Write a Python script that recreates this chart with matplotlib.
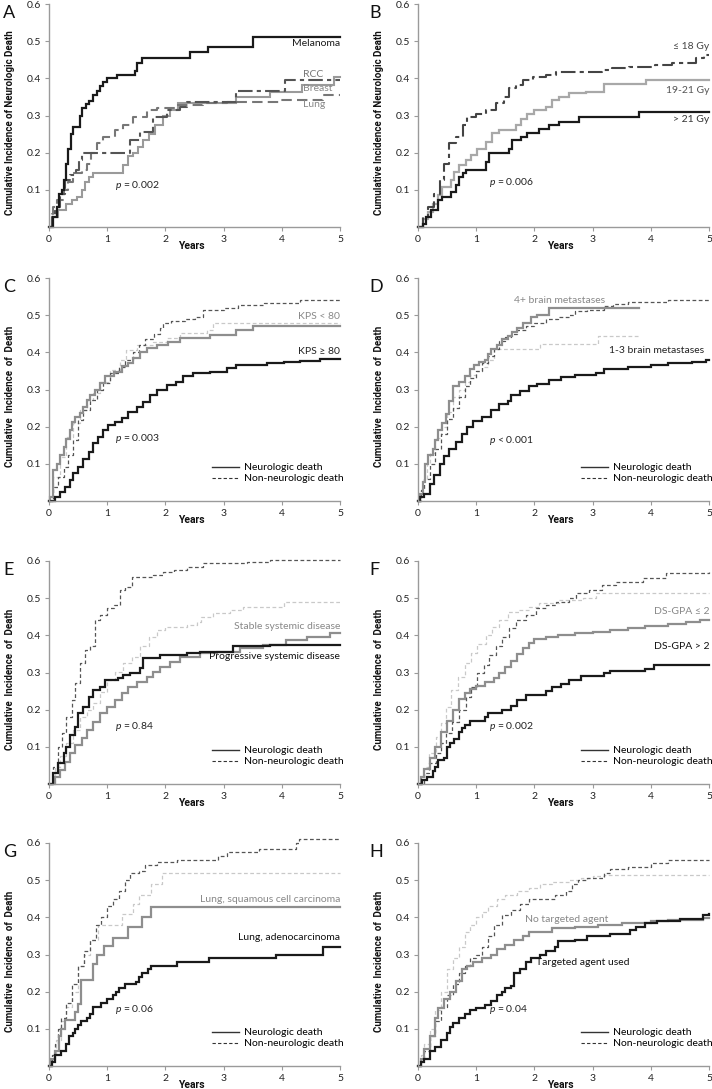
import matplotlib
matplotlib.use('Agg')
import matplotlib.pyplot as plt
from matplotlib.lines import Line2D

plt.rcParams['font.family'] = ['Lato', 'DejaVu Sans']
plt.rcParams['mathtext.fontset'] = 'custom'
plt.rcParams['mathtext.it'] = 'Lato:italic'
plt.rcParams['mathtext.rm'] = 'Lato'

# ---------------- data: (years, cumulative incidence)
# A: primary histology
a_melanoma = [(0,0),(0.07,0.027),(0.13,0.054),(0.18,0.09),(0.22,0.10),(0.26,0.126),(0.29,0.17),(0.33,0.21),
              (0.37,0.25),(0.42,0.27),(0.53,0.30),(0.56,0.32),(0.64,0.33),(0.69,0.34),(0.75,0.355),(0.82,0.367),
              (0.88,0.38),(0.93,0.39),(0.99,0.40),(1.16,0.41),(1.48,0.42),(1.52,0.44),(1.59,0.455),(2.42,0.47),
              (2.74,0.485),(3.50,0.51),(5.0,0.51)]
a_rcc = [(0,0),(0.05,0.027),(0.10,0.054),(0.19,0.09),(0.27,0.126),(0.36,0.14),(0.46,0.153),(0.52,0.18),(0.56,0.20),
         (1.39,0.234),(1.56,0.256),(1.79,0.296),(2.02,0.315),(2.25,0.323),(2.37,0.335),(3.22,0.367),(4.05,0.395),(5.0,0.395)]
a_breast = [(0,0),(0.07,0.027),(0.16,0.045),(0.30,0.063),(0.39,0.072),(0.48,0.08),(0.56,0.10),(0.62,0.12),(0.68,0.135),
            (0.76,0.144),(1.27,0.166),(1.36,0.19),(1.45,0.198),(1.53,0.216),(1.62,0.234),(1.71,0.25),(1.82,0.274),
            (1.96,0.30),(2.08,0.315),(2.22,0.333),(3.22,0.35),(3.79,0.364),(4.34,0.382),(4.89,0.404),(5.0,0.404)]
a_lung = [(0,0),(0.05,0.036),(0.07,0.054),(0.14,0.072),(0.25,0.10),(0.33,0.12),(0.42,0.144),(0.56,0.153),(0.65,0.17),
          (0.73,0.198),(0.82,0.225),(0.93,0.243),(1.13,0.26),(1.28,0.274),(1.45,0.296),(1.68,0.315),(1.85,0.32),
          (2.19,0.328),(2.65,0.333),(3.05,0.337),(3.97,0.343),(4.71,0.355),(5.0,0.355)]

# B: SRS dose
b_le18 = [(0,0),(0.08,0.027),(0.17,0.054),(0.28,0.09),(0.37,0.126),(0.45,0.17),(0.54,0.225),(0.65,0.243),(0.77,0.274),
          (0.85,0.296),(1.0,0.305),(1.17,0.315),(1.34,0.333),(1.48,0.35),(1.57,0.373),(1.68,0.382),(1.80,0.395),
          (1.97,0.404),(2.2,0.409),(2.37,0.418),(3.17,0.422),(3.34,0.427),(3.63,0.431),(4.08,0.436),(4.37,0.44),
          (4.77,0.454),(4.91,0.463),(5.0,0.463)]
b_19_21 = [(0,0),(0.08,0.022),(0.17,0.04),(0.25,0.063),(0.34,0.085),(0.42,0.108),(0.57,0.126),(0.62,0.148),(0.71,0.166),
           (0.82,0.18),(0.91,0.193),(1.02,0.211),(1.17,0.229),(1.28,0.252),(1.40,0.26),(1.68,0.274),(1.77,0.29),
           (1.88,0.305),(2.0,0.315),(2.2,0.323),(2.31,0.341),(2.43,0.35),(2.6,0.36),(2.88,0.364),(3.2,0.386),
           (3.91,0.395),(5.0,0.395)]
b_gt21 = [(0,0),(0.08,0.009),(0.14,0.027),(0.22,0.045),(0.34,0.072),(0.42,0.08),(0.57,0.094),(0.65,0.112),(0.71,0.135),
          (0.77,0.144),(0.82,0.153),(1.17,0.175),(1.22,0.198),(1.57,0.211),(1.62,0.234),(1.77,0.243),(1.88,0.252),
          (2.08,0.265),(2.25,0.274),(2.43,0.283),(2.77,0.297),(3.8,0.31),(5.0,0.31)]

# C: KPS
c_low_neuro = [(0,0),(0.02,0.011),(0.07,0.083),(0.13,0.10),(0.19,0.123),(0.25,0.146),(0.30,0.168),(0.36,0.19),
               (0.39,0.213),(0.45,0.227),(0.53,0.236),(0.59,0.254),(0.65,0.272),(0.70,0.285),(0.79,0.298),
               (0.88,0.317),(0.96,0.335),(1.11,0.348),(1.25,0.362),(1.36,0.37),(1.45,0.384),(1.56,0.402),
               (1.68,0.411),(1.85,0.42),(2.05,0.429),(2.25,0.438),(2.77,0.447),(3.22,0.46),(3.50,0.472),(5.0,0.472)]
c_low_other = [(0,0),(0.07,0.065),(0.19,0.119),(0.30,0.173),(0.42,0.209),(0.53,0.245),(0.65,0.272),(0.76,0.29),
               (0.88,0.321),(1.05,0.353),(1.22,0.38),(1.33,0.406),(1.51,0.42),(1.79,0.429),(2.02,0.438),
               (2.25,0.451),(2.71,0.46),(2.82,0.478),(5.0,0.478)]
c_high_neuro = [(0,0),(0.10,0.011),(0.19,0.024),(0.27,0.038),(0.36,0.056),(0.42,0.074),(0.50,0.092),(0.59,0.114),
                (0.68,0.132),(0.76,0.155),(0.85,0.173),(0.93,0.19),(1.02,0.204),(1.13,0.213),(1.25,0.222),
                (1.36,0.24),(1.51,0.254),(1.62,0.267),(1.74,0.285),(1.85,0.298),(2.02,0.312),(2.19,0.321),
                (2.31,0.335),(2.48,0.344),(2.77,0.348),(3.05,0.357),(3.22,0.366),(3.74,0.37),(4.03,0.375),
                (4.31,0.378),(4.66,0.381),(5.0,0.381)]
c_high_other = [(0,0),(0.07,0.038),(0.16,0.065),(0.25,0.092),(0.33,0.123),(0.42,0.164),(0.5,0.218),(0.59,0.245),
                (0.70,0.272),(0.82,0.298),(0.93,0.317),(1.05,0.345),(1.2,0.36),(1.3,0.38),(1.45,0.40),(1.55,0.42),
                (1.65,0.435),(1.8,0.45),(1.9,0.465),(1.96,0.478),(2.1,0.483),(2.34,0.49),(2.5,0.495),(2.65,0.514),
                (3.0,0.518),(3.25,0.528),(3.7,0.533),(4.31,0.541),(5.0,0.541)]

# D: number of brain metastases
d_many_neuro = [(0,0),(0.03,0.02),(0.08,0.05),(0.12,0.1),(0.17,0.125),(0.25,0.14),(0.3,0.165),(0.35,0.19),(0.42,0.21),
                (0.48,0.235),(0.53,0.27),(0.6,0.31),(0.7,0.32),(0.8,0.335),(0.9,0.355),(0.97,0.365),(1.05,0.375),
                (1.15,0.38),(1.2,0.395),(1.25,0.41),(1.35,0.42),(1.45,0.435),(1.55,0.445),(1.62,0.455),(1.7,0.465),
                (1.8,0.48),(1.95,0.495),(2.05,0.5),(2.25,0.518),(3.8,0.518)]
d_many_other = [(0,0),(0.05,0.03),(0.1,0.06),(0.15,0.1),(0.2,0.13),(0.3,0.17),(0.4,0.2),(0.5,0.24),(0.6,0.28),
                (0.7,0.3),(0.8,0.32),(0.9,0.34),(1.0,0.35),(1.1,0.36),(1.2,0.38),(1.3,0.41),(2.1,0.422),
                (3.1,0.445),(3.8,0.445)]
d_few_neuro = [(0,0),(0.03,0.01),(0.1,0.02),(0.2,0.045),(0.28,0.07),(0.37,0.1),(0.45,0.12),(0.53,0.14),(0.65,0.16),
               (0.75,0.18),(0.85,0.2),(0.95,0.215),(1.1,0.225),(1.25,0.245),(1.4,0.26),(1.55,0.27),(1.6,0.285),
               (1.75,0.295),(1.9,0.31),(2.05,0.315),(2.25,0.325),(2.45,0.333),(2.7,0.34),(3.05,0.345),(3.2,0.355),
               (3.6,0.36),(4.0,0.365),(4.3,0.37),(4.7,0.375),(4.95,0.38),(5.0,0.38)]
d_few_other = [(0,0),(0.05,0.03),(0.1,0.06),(0.2,0.1),(0.3,0.14),(0.4,0.18),(0.5,0.22),(0.6,0.25),(0.7,0.28),
               (0.8,0.31),(0.9,0.33),(1.0,0.35),(1.1,0.37),(1.2,0.39),(1.3,0.41),(1.4,0.43),(1.5,0.44),(1.6,0.45),
               (1.7,0.46),(1.85,0.47),(2.0,0.48),(2.2,0.49),(2.4,0.495),(2.6,0.5),(2.7,0.51),(2.9,0.515),
               (3.2,0.525),(3.35,0.53),(3.6,0.535),(4.3,0.54),(5.0,0.54)]

# E: extracranial disease status
e_stable_neuro = [(0,0),(0.10,0.02),(0.19,0.038),(0.27,0.06),(0.36,0.083),(0.45,0.105),(0.56,0.123),(0.65,0.145),
                  (0.76,0.168),(0.88,0.19),(0.99,0.208),(1.13,0.226),(1.25,0.244),(1.36,0.262),(1.51,0.275),
                  (1.68,0.289),(1.79,0.302),(1.91,0.316),(2.08,0.329),(2.25,0.343),(2.59,0.352),(2.88,0.356),
                  (3.28,0.365),(3.68,0.374),(4.08,0.387),(4.43,0.396),(4.83,0.405),(5.0,0.405)]
e_stable_other = [(0,0),(0.10,0.047),(0.19,0.074),(0.30,0.109),(0.42,0.145),(0.53,0.181),(0.65,0.199),(0.76,0.217),
                  (0.88,0.248),(0.99,0.28),(1.13,0.302),(1.28,0.325),(1.42,0.343),(1.56,0.37),(1.71,0.396),
                  (1.85,0.414),(1.99,0.423),(2.37,0.428),(2.54,0.437),(2.62,0.45),(2.82,0.459),(3.11,0.468),
                  (3.34,0.477),(4.03,0.491),(5.0,0.491)]
e_prog_neuro = [(0,0),(0.07,0.029),(0.16,0.056),(0.25,0.083),(0.30,0.10),(0.36,0.132),(0.45,0.154),(0.50,0.19),
                (0.59,0.208),(0.68,0.235),(0.76,0.253),(0.88,0.262),(0.96,0.28),(1.19,0.284),(1.28,0.293),
                (1.39,0.298),(1.56,0.311),(1.62,0.338),(1.91,0.347),(2.37,0.352),(2.59,0.356),(3.17,0.37),
                (3.80,0.374),(5.0,0.374)]
e_prog_other = [(0,0),(0.07,0.047),(0.16,0.10),(0.22,0.136),(0.30,0.181),(0.39,0.226),(0.45,0.271),(0.53,0.325),
                (0.62,0.36),(0.70,0.37),(0.79,0.441),(0.88,0.455),(0.99,0.473),(1.11,0.482),(1.22,0.522),
                (1.31,0.531),(1.42,0.558),(1.79,0.562),(1.96,0.571),(2.14,0.576),(2.37,0.585),(2.65,0.594),
                (3.40,0.598),(3.80,0.603),(5.0,0.603)]

# F: DS-GPA
f_low_neuro = [(0,0),(0.05,0.02),(0.1,0.04),(0.2,0.07),(0.3,0.1),(0.4,0.14),(0.5,0.17),(0.6,0.2),(0.7,0.23),(0.8,0.245),
               (0.9,0.255),(1.0,0.265),(1.15,0.275),(1.3,0.285),(1.4,0.3),(1.5,0.315),(1.6,0.33),(1.7,0.35),
               (1.8,0.365),(1.9,0.38),(2.0,0.39),(2.2,0.395),(2.4,0.402),(2.7,0.407),(3.0,0.41),(3.3,0.415),
               (3.6,0.42),(3.9,0.425),(4.3,0.43),(4.6,0.435),(4.85,0.44),(5.0,0.44)]
f_low_other = [(0,0),(0.11,0.047),(0.19,0.083),(0.31,0.127),(0.39,0.163),(0.48,0.208),(0.57,0.253),(0.68,0.289),
               (0.80,0.325),(0.91,0.352),(1.02,0.378),(1.17,0.40),(1.28,0.423),(1.40,0.441),(1.54,0.464),
               (1.74,0.468),(1.91,0.477),(2.08,0.486),(2.43,0.495),(2.83,0.50),(3.05,0.515),(5.0,0.515)]
f_high_neuro = [(0,0),(0.07,0.01),(0.15,0.02),(0.25,0.035),(0.3,0.045),(0.35,0.065),(0.45,0.07),(0.5,0.1),(0.55,0.11),
                (0.62,0.12),(0.7,0.14),(0.75,0.15),(0.8,0.16),(0.9,0.17),(1.15,0.18),(1.2,0.19),(1.45,0.2),
                (1.6,0.21),(1.7,0.225),(1.85,0.24),(2.2,0.25),(2.3,0.26),(2.45,0.27),(2.6,0.28),(2.8,0.29),
                (3.2,0.30),(3.3,0.305),(3.9,0.31),(4.05,0.32),(5.0,0.32)]
f_high_other = [(0,0),(0.11,0.029),(0.19,0.056),(0.31,0.083),(0.39,0.109),(0.48,0.136),(0.59,0.168),(0.71,0.199),
                (0.82,0.235),(0.91,0.262),(1.02,0.298),(1.14,0.32),(1.22,0.347),(1.34,0.37),(1.45,0.396),
                (1.57,0.419),(1.68,0.441),(1.85,0.455),(2.03,0.473),(2.20,0.482),(2.37,0.491),(2.60,0.50),
                (2.71,0.513),(2.94,0.522),(3.17,0.535),(3.40,0.544),(3.86,0.553),(4.26,0.567),(5.0,0.57)]

# G: lung histology
g_squam_neuro = [(0,0),(0.03,0.02),(0.1,0.04),(0.17,0.08),(0.2,0.10),(0.27,0.125),(0.45,0.145),(0.5,0.168),
                 (0.55,0.232),(0.75,0.275),(0.82,0.298),(0.95,0.322),(1.1,0.345),(1.35,0.373),(1.6,0.40),
                 (1.75,0.428),(5.0,0.428)]
g_squam_other = [(0,0),(0.05,0.03),(0.12,0.07),(0.2,0.12),(0.3,0.16),(0.4,0.2),(0.5,0.27),(0.6,0.3),(0.7,0.34),
                 (0.85,0.38),(1.25,0.41),(1.45,0.435),(1.55,0.46),(1.75,0.49),(1.95,0.52),(5.0,0.52)]
g_adeno_neuro = [(0,0),(0.05,0.01),(0.1,0.03),(0.2,0.04),(0.3,0.06),(0.35,0.08),(0.42,0.09),(0.45,0.1),(0.5,0.11),
                 (0.55,0.12),(0.65,0.13),(0.7,0.14),(0.75,0.16),(0.9,0.17),(1.0,0.18),(1.1,0.19),(1.15,0.2),
                 (1.2,0.21),(1.3,0.22),(1.5,0.225),(1.55,0.24),(1.6,0.25),(1.7,0.26),(1.75,0.27),(2.2,0.28),
                 (2.75,0.29),(3.9,0.3),(4.7,0.32),(5.0,0.32)]
g_adeno_other = [(0,0),(0.05,0.03),(0.1,0.06),(0.15,0.1),(0.2,0.13),(0.3,0.17),(0.4,0.22),(0.5,0.27),(0.6,0.31),
                 (0.7,0.34),(0.8,0.38),(0.9,0.4),(1.0,0.43),(1.1,0.45),(1.2,0.47),(1.3,0.5),(1.4,0.52),
                 (1.55,0.525),(1.65,0.54),(1.85,0.55),(2.2,0.555),(2.9,0.565),(3.05,0.575),(3.6,0.585),
                 (4.25,0.60),(4.3,0.61),(5.0,0.61)]

# H: targeted agent
h_none_neuro = [(0,0),(0.05,0.02),(0.1,0.045),(0.2,0.08),(0.3,0.13),(0.35,0.155),(0.45,0.18),(0.55,0.2),(0.65,0.23),
                (0.75,0.26),(0.85,0.27),(0.95,0.28),(1.1,0.29),(1.25,0.30),(1.35,0.315),(1.5,0.325),(1.65,0.34),
                (1.8,0.35),(1.9,0.36),(2.3,0.37),(2.7,0.375),(3.1,0.38),(3.5,0.385),(4.0,0.39),(4.3,0.393),
                (4.9,0.397),(5.0,0.397)]
h_none_other = [(0,0),(0.05,0.03),(0.1,0.06),(0.2,0.1),(0.3,0.15),(0.4,0.2),(0.5,0.26),(0.6,0.29),(0.7,0.32),
                (0.8,0.36),(0.9,0.38),(1.0,0.40),(1.1,0.415),(1.2,0.43),(1.35,0.45),(1.5,0.46),(1.7,0.47),
                (1.9,0.48),(2.1,0.49),(2.3,0.495),(2.6,0.5),(2.8,0.505),(3.0,0.51),(3.2,0.513),(5.0,0.513)]
h_used_neuro = [(0,0),(0.05,0.01),(0.1,0.02),(0.2,0.04),(0.3,0.05),(0.4,0.07),(0.5,0.09),(0.55,0.105),(0.6,0.115),
                (0.7,0.13),(0.8,0.14),(0.9,0.15),(1.0,0.155),(1.15,0.165),(1.25,0.175),(1.35,0.19),(1.45,0.2),
                (1.5,0.21),(1.6,0.215),(1.65,0.25),(1.75,0.26),(1.85,0.28),(1.95,0.29),(2.1,0.3),(2.2,0.31),
                (2.35,0.32),(2.4,0.335),(2.7,0.34),(2.9,0.35),(3.3,0.355),(3.65,0.365),(3.75,0.375),(3.9,0.385),
                (4.1,0.39),(4.5,0.395),(4.9,0.405),(5.0,0.408)]
h_used_other = [(0,0),(0.05,0.02),(0.1,0.04),(0.2,0.08),(0.3,0.12),(0.4,0.16),(0.5,0.19),(0.6,0.22),(0.7,0.25),
                (0.8,0.27),(0.9,0.29),(1.0,0.30),(1.1,0.32),(1.2,0.35),(1.3,0.38),(1.45,0.405),(1.6,0.42),
                (1.75,0.435),(1.9,0.45),(2.35,0.46),(2.55,0.47),(2.65,0.49),(2.75,0.5),(2.9,0.505),(3.2,0.52),
                (3.3,0.53),(3.6,0.535),(4.0,0.545),(4.3,0.555),(5.0,0.555)]

BLACK = '#1a1a1a'
MID = '#8e8e8e'
LIGHT = '#c9c9c9'
DARK = '#555555'
AXC = '#9a9a9a'
COND = ['Roboto', 'DejaVu Sans']

W, H = 712, 1089
fig = plt.figure(figsize=(W / 100, H / 100), dpi=100)

cols = [49, 418]
tops = [4, 278, 561, 843]
aw, ah = 291, 223


def make_ax(row, col, letter, ylabel):
    x0, y0 = cols[col], tops[row]
    ax = fig.add_axes([x0 / W, 1 - (y0 + ah) / H, aw / W, ah / H])
    ax.set_xlim(0, 5)
    ax.set_ylim(0, 0.6)
    for s in ['top', 'right']:
        ax.spines[s].set_visible(False)
    for s in ['left', 'bottom']:
        ax.spines[s].set_color(AXC)
        ax.spines[s].set_linewidth(1.0)
    ax.set_xticks([0, 1, 2, 3, 4, 5])
    ax.set_yticks([0.1, 0.2, 0.3, 0.4, 0.5, 0.6])
    ax.set_yticklabels(['0.1', '0.2', '0.3', '0.4', '0.5', '0.6'])
    ax.tick_params(direction='out', length=3, width=0.8, color=AXC, labelsize=7.5,
                   labelcolor='#222222', pad=2.5)
    ax.set_ylabel(ylabel, family=COND, fontweight='bold', fontsize=7.0, color='#111111')
    ax.yaxis.set_label_coords(-0.118, 0.47)
    ax.text(2.45, -0.085, 'Years', transform=ax.get_xaxis_transform(), ha='center', va='center',
            family=COND, fontweight='bold', fontsize=7.5, color='#111111')
    fig.text((3 if col == 0 else 369) / W, 1 - (y0 + 1) / H, letter, fontsize=13, va='top', ha='left',
             color='#111111')
    return ax


def curve(ax, pts, color, lw, ls='-', dashes=None):
    t = [p[0] for p in pts]
    v = [p[1] for p in pts]
    line, = ax.step(t, v, where='post', color=color, lw=lw, linestyle=ls, clip_on=False,
                    solid_joinstyle='miter')
    if dashes is not None:
        line.set_dashes(dashes)
    return line


def add_legend(ax):
    handles = [Line2D([], [], color='#333333', lw=1.0),
               Line2D([], [], color='#333333', lw=0.8, linestyle=(0, (3, 2)))]
    ax.legend(handles, ['Neurologic death', 'Non-neurologic death'], loc='upper left',
              bbox_to_anchor=(0.56, 0.17), frameon=False, fontsize=7.5, handlelength=2.6,
              handletextpad=0.5, labelspacing=0.15, borderpad=0, borderaxespad=0)


def ptext(ax, x, y, s):
    ax.text(x, y, r'$\it{p}$' + s, fontsize=7.5, ha='left', va='center', color='#222222')


YL1 = 'Cumulative Incidence of Neurologic Death'
YL2 = 'Cumulative  Incidence  of  Death'

# A
ax = make_ax(0, 0, 'A', YL1)
curve(ax, a_breast, '#9a9a9a', 1.5)
curve(ax, a_lung, '#777777', 1.5, '--', (5, 2.5))
curve(ax, a_rcc, '#555555', 1.5, '-.', (7, 2, 2, 2))
curve(ax, a_melanoma, BLACK, 1.6)
ax.text(5.0, 0.494, 'Melanoma', ha='right', va='center', fontsize=7.5, color=BLACK)
ax.text(4.37, 0.41, 'RCC', ha='left', va='center', fontsize=7.5, color='#777777')
ax.text(4.37, 0.373, 'Breast', ha='left', va='center', fontsize=7.5, color='#888888')
ax.text(4.37, 0.330, 'Lung', ha='left', va='center', fontsize=7.5, color='#888888')
ptext(ax, 1.13, 0.112, ' = 0.002')

# B
ax = make_ax(0, 1, 'B', YL1)
curve(ax, b_19_21, '#a8a8a8', 1.6)
curve(ax, b_le18, '#444444', 1.5, '-.', (7, 2, 2, 2))
curve(ax, b_gt21, BLACK, 1.6)
ax.text(5.0, 0.485, '≤ 18 Gy', ha='right', va='center', fontsize=7.5, color='#444444')
ax.text(5.0, 0.368, '19-21 Gy', ha='right', va='center', fontsize=7.5, color='#555555')
ax.text(5.0, 0.288, '> 21 Gy', ha='right', va='center', fontsize=7.5, color='#333333')
ptext(ax, 1.22, 0.121, ' = 0.006')

# C
ax = make_ax(1, 0, 'C', YL2)
curve(ax, c_low_other, LIGHT, 0.9, '--', (3, 2))
curve(ax, c_high_other, DARK, 0.9, '--', (3, 2))
curve(ax, c_low_neuro, MID, 1.6)
curve(ax, c_high_neuro, BLACK, 1.6)
ax.text(5.0, 0.496, 'KPS < 80', ha='right', va='center', fontsize=7.5, color='#888888')
ax.text(5.0, 0.402, 'KPS ≥ 80', ha='right', va='center', fontsize=7.5, color='#222222')
ptext(ax, 1.13, 0.168, ' = 0.003')
add_legend(ax)

# D
ax = make_ax(1, 1, 'D', YL2)
curve(ax, d_many_other, LIGHT, 0.9, '--', (3, 2))
curve(ax, d_few_other, DARK, 0.9, '--', (3, 2))
curve(ax, d_many_neuro, MID, 1.6)
curve(ax, d_few_neuro, BLACK, 1.6)
ax.text(2.43, 0.539, '4+ brain metastases', ha='center', va='center', fontsize=7.5, color='#888888')
ax.text(4.91, 0.404, '1-3 brain metastases', ha='right', va='center', fontsize=7.5, color='#222222')
ptext(ax, 1.22, 0.164, ' < 0.001')
add_legend(ax)

# E
ax = make_ax(2, 0, 'E', YL2)
curve(ax, e_stable_other, LIGHT, 0.9, '--', (3, 2))
curve(ax, e_prog_other, DARK, 0.9, '--', (3, 2))
curve(ax, e_stable_neuro, MID, 1.6)
curve(ax, e_prog_neuro, BLACK, 1.6)
ax.text(5.0, 0.423, 'Stable systemic disease', ha='right', va='center', fontsize=7.5, color='#888888')
ax.text(5.0, 0.344, 'Progressive systemic disease', ha='right', va='center', fontsize=7.5, color='#111111')
ptext(ax, 1.13, 0.156, ' = 0.84')
add_legend(ax)

# F
ax = make_ax(2, 1, 'F', YL2)
curve(ax, f_low_other, LIGHT, 0.9, '--', (3, 2))
curve(ax, f_high_other, DARK, 0.9, '--', (3, 2))
curve(ax, f_low_neuro, MID, 1.6)
curve(ax, f_high_neuro, BLACK, 1.6)
ax.text(5.0, 0.465, 'DS-GPA ≤ 2', ha='right', va='center', fontsize=7.5, color='#888888')
ax.text(5.0, 0.370, 'DS-GPA > 2', ha='right', va='center', fontsize=7.5, color='#111111')
ptext(ax, 1.22, 0.156, ' = 0.002')
add_legend(ax)

# G
ax = make_ax(3, 0, 'G', YL2)
curve(ax, g_squam_other, LIGHT, 0.9, '--', (3, 2))
curve(ax, g_adeno_other, DARK, 0.9, '--', (3, 2))
curve(ax, g_squam_neuro, MID, 1.6)
curve(ax, g_adeno_neuro, BLACK, 1.6)
ax.text(5.0, 0.449, 'Lung, squamous cell carcinoma', ha='right', va='center', fontsize=7.5, color='#888888')
ax.text(5.0, 0.345, 'Lung, adenocarcinoma', ha='right', va='center', fontsize=7.5, color='#111111')
ptext(ax, 1.13, 0.152, ' = 0.06')
add_legend(ax)

# H
ax = make_ax(3, 1, 'H', YL2)
curve(ax, h_none_other, LIGHT, 0.9, '--', (3, 2))
curve(ax, h_used_other, DARK, 0.9, '--', (3, 2))
curve(ax, h_none_neuro, MID, 1.6)
curve(ax, h_used_neuro, BLACK, 1.6)
ax.text(1.83, 0.394, 'No targeted agent', ha='left', va='center', fontsize=7.5, color='#888888')
ax.text(2.03, 0.278, 'Targeted agent used', ha='left', va='center', fontsize=7.5, color='#111111')
ptext(ax, 1.22, 0.152, ' = 0.04')
add_legend(ax)

fig.savefig('out.png', dpi=100, facecolor='white')
